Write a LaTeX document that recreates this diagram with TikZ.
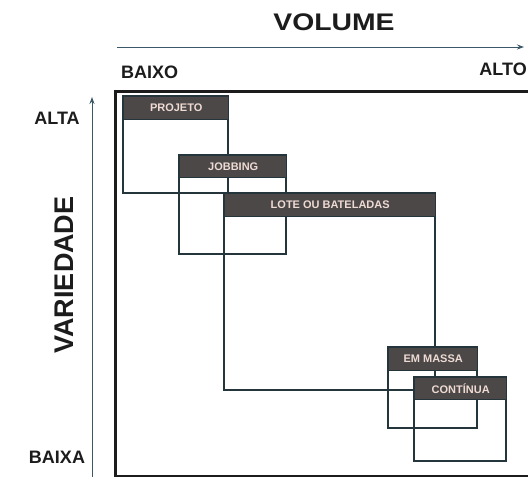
\documentclass[tikz,border=0pt]{standalone}
\usepackage{fontspec}
\setmainfont{Liberation Sans}
\usetikzlibrary{arrows.meta,positioning}

\definecolor{headgray}{HTML}{4B4847}
\definecolor{headtext}{HTML}{EFDAD4}
\definecolor{boxline}{HTML}{24363C}
\definecolor{axisline}{HTML}{3A5868}
\definecolor{inkblack}{HTML}{1C1C1C}

\begin{document}
\begin{tikzpicture}[x=1pt, y=-1pt, line join=miter, >={Stealth[length=7pt,width=5pt]},
  procbox/.style={draw=boxline, line width=1.4pt},
  header/.style={draw=boxline, line width=1.4pt, fill=headgray, text=headtext,
    font=\bfseries\fontsize{11}{13}\selectfont, inner sep=0pt, anchor=north west},
  axisarrow/.style={draw=axisline, line width=1pt, ->},
  endtext/.style={font=\bfseries\fontsize{18}{21}\selectfont, text=inkblack, inner sep=0pt}]
  \useasboundingbox (0,0) rectangle (528,477);
  \fill[white] (0,0) rectangle (528,477);
  \clip (0,0) rectangle (528,477);

  % Axis titles and arrows
  \node[font=\bfseries\fontsize{24}{28}\selectfont, text=inkblack, inner sep=0pt] (volume) at (334,22) {\scalebox{1.18}[1]{VOLUME}};
  \coordinate (volstart) at (117,47);
  \coordinate (volend) at (524,47);
  \draw[axisarrow] (volstart) -- (volend);
  \node[endtext, anchor=west] (baixo) at (121,72) {BAIXO};
  \node[endtext, anchor=east] (alto) at (527,69) {ALTO};

  \coordinate (varstart) at (92,478);
  \coordinate (varend) at (92,97);
  \draw[axisarrow] (varstart) -- (varend);
  \node[endtext] (alta) at (57,118) {ALTA};
  \node[endtext] (baixa) at (57,457) {BAIXA};
  \node[font=\bfseries\fontsize{27}{31}\selectfont, text=inkblack, inner sep=0pt, rotate=90] (variedade) at (64,275) {VARIEDADE};

  % Outer frame (runs off the right and bottom edge)
  \draw[inkblack, line width=3pt] (115.5,91.5) rectangle (560,476.5);

  % Box outlines first, so the headers cover them
  \draw[procbox] (123,96) rectangle (228,193);
  \draw[procbox] (179,155) rectangle (286,254);
  \draw[procbox] (224,193) rectangle (435,390);
  \draw[procbox] (388,347) rectangle (477,428);
  \draw[procbox] (414,377) rectangle (506,461);

  % Headers
  \node[header, minimum width=105pt, minimum height=23pt] (projeto) at (123,96) {PROJETO};
  \node[header, minimum width=107pt, minimum height=22pt] (jobbing) at (179,155) {JOBBING};
  \node[header, minimum width=211pt, minimum height=23pt] (lote) at (224,193) {LOTE OU BATELADAS};
  \node[header, minimum width=89pt, minimum height=23pt] (massa) at (388,347) {EM MASSA};
  \node[header, minimum width=92pt, minimum height=22pt] (continua) at (414,377) {CONTÍNUA};
\end{tikzpicture}
\end{document}
